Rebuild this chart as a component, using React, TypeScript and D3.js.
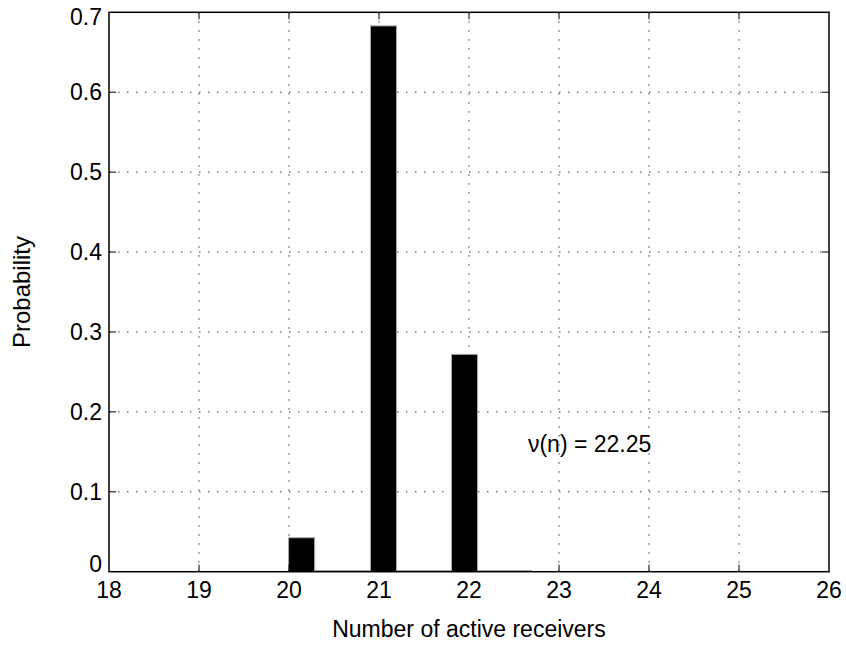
import React from "react";
import * as d3 from "d3";

// Histogram of the number of active receivers
const binCenters = [20.14, 21.05, 21.95];
const probabilities = [0.0425, 0.683, 0.272];
const barWidthUnits = 0.29;
const baselineEnd = 22.7;

const xTicks = [18, 19, 20, 21, 22, 23, 24, 25, 26];
const yTicks = [0, 0.1, 0.2, 0.3, 0.4, 0.5, 0.6, 0.7];
const annotation = "\u03bd(n) = 22.25";
const annotationPos = [22.655, 0.15];

const W = 846;
const H = 645;
const m = { left: 109, right: 17, top: 12.3, bottom: 73.3 };

export default function App() {
  const x = d3.scaleLinear().domain([18, 26]).range([m.left, W - m.right]);
  const y = d3.scaleLinear().domain([0, 0.7]).range([H - m.bottom, m.top]);
  const font = "'Liberation Sans', Arial, Helvetica, sans-serif";
  const x0 = x.range()[0];
  const x1 = x.range()[1];
  const y0 = y.range()[0];
  const y1 = y.range()[1];
  const tickLen = 7;

  // end labels of the y axis are nudged inward so they stay beside the box
  const yLabelOffset = (i: number) =>
    i === 0 ? 0 : i === yTicks.length - 1 ? 12.9 : 8.1;

  return (
    <svg
      width={W}
      height={H}
      style={{ position: "absolute", left: 0, top: 0, background: "#fff" }}
      fontFamily={font}
    >
      {/* grid */}
      <g stroke="#333" strokeWidth={1} strokeDasharray="1.5,7.5">
        {xTicks.slice(1, -1).map((t) => (
          <line key={"gx" + t} x1={x(t)} x2={x(t)} y1={y0} y2={y1} />
        ))}
        {yTicks.slice(1, -1).map((t) => (
          <line key={"gy" + t} x1={x0} x2={x1} y1={y(t)} y2={y(t)} />
        ))}
      </g>

      {/* baseline of zero-height bins */}
      <line
        x1={x(binCenters[0] - barWidthUnits / 2)}
        x2={x(baselineEnd)}
        y1={y(0) - 1}
        y2={y(0) - 1}
        stroke="#999"
        strokeWidth={1}
      />

      {/* bars */}
      {binCenters.map((c, i) => (
        <rect
          key={"b" + i}
          x={x(c - barWidthUnits / 2)}
          y={y(probabilities[i])}
          width={x(c + barWidthUnits / 2) - x(c - barWidthUnits / 2)}
          height={y(0) - y(probabilities[i])}
          fill="#000"
          stroke="#aaa"
          strokeWidth={1}
        />
      ))}

      {/* ticks on all four sides */}
      <g stroke="#000" strokeWidth={1}>
        {xTicks.slice(1, -1).map((t) => (
          <g key={"tx" + t}>
            <line x1={x(t)} x2={x(t)} y1={y0} y2={y0 - tickLen} />
            <line x1={x(t)} x2={x(t)} y1={y1} y2={y1 + tickLen} />
          </g>
        ))}
        {yTicks.slice(1, -1).map((t) => (
          <g key={"ty" + t}>
            <line x1={x0} x2={x0 + tickLen} y1={y(t)} y2={y(t)} />
            <line x1={x1} x2={x1 - tickLen} y1={y(t)} y2={y(t)} />
          </g>
        ))}
      </g>

      {/* axes box */}
      <rect
        x={x0}
        y={y1}
        width={x1 - x0}
        height={y0 - y1}
        fill="none"
        stroke="#000"
        strokeWidth={1.5}
      />

      {/* tick labels */}
      <g fontSize={23} fill="#000">
        {xTicks.map((t) => (
          <text key={"lx" + t} x={x(t)} y={y0 + 26} textAnchor="middle">
            {t}
          </text>
        ))}
        {yTicks.map((t, i) => (
          <text
            key={"ly" + t}
            x={x0 - 7}
            y={y(t) + yLabelOffset(i)}
            textAnchor="end"
          >
            {t === 0 ? "0" : d3.format(".1f")(t)}
          </text>
        ))}
      </g>

      {/* axis titles */}
      <text x={(x0 + x1) / 2} y={637} textAnchor="middle" fontSize={23}>
        Number of active receivers
      </text>
      <text
        transform={`translate(30, ${(y0 + y1) / 2}) rotate(-90)`}
        textAnchor="middle"
        fontSize={24}
      >
        Probability
      </text>

      {/* annotation */}
      <text x={x(annotationPos[0])} y={y(annotationPos[1])} fontSize={23}>
        {annotation}
      </text>
    </svg>
  );
}
